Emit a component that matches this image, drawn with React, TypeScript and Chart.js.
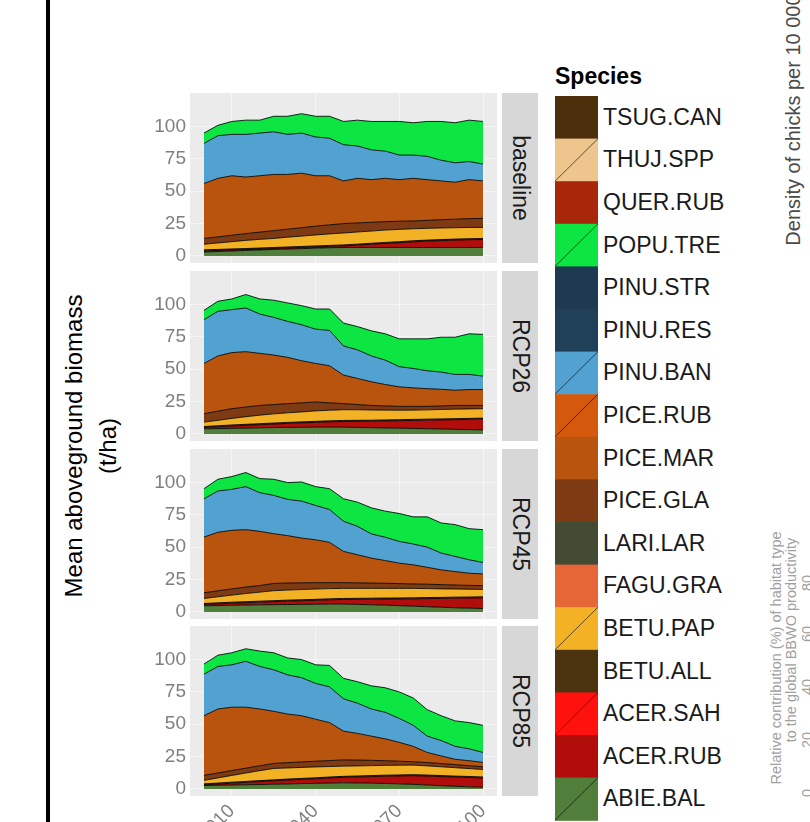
import React, { useEffect, useRef } from "react";
import { Chart, registerables } from "chart.js";

Chart.register(...registerables);

// ---------- data ----------
const YEARS = [2000, 2005, 2010, 2015, 2020, 2025, 2030, 2035, 2040, 2045, 2050, 2055, 2060, 2065, 2070, 2075, 2080, 2085, 2090, 2095, 2100];
const X_TICKS = [2010, 2040, 2070, 2100];
const Y_TICKS = [0, 25, 50, 75, 100];
const SCENARIOS = ["baseline", "RCP26", "RCP45", "RCP85"];

// legend order (top to bottom)
const SPECIES = ["TSUG.CAN", "THUJ.SPP", "QUER.RUB", "POPU.TRE", "PINU.STR", "PINU.RES", "PINU.BAN", "PICE.RUB", "PICE.MAR", "PICE.GLA", "LARI.LAR", "FAGU.GRA", "BETU.PAP", "BETU.ALL", "ACER.SAH", "ACER.RUB", "ABIE.BAL"];
const SPECIES_COLORS = ["#4E2F0B", "#EFC58E", "#A8260A", "#0CE542", "#1F3A50", "#204059", "#52A2D1", "#D4590C", "#B8540E", "#7E3A12", "#434A33", "#E66638", "#F3B126", "#4A330D", "#FF120E", "#B10D0A", "#4F7F3B"];
const DIAGONAL_KEYS = ["THUJ.SPP", "POPU.TRE", "PINU.BAN", "PICE.RUB", "BETU.PAP", "ACER.SAH", "ABIE.BAL"];

// stacking order (bottom to top) of the species with visible biomass
const STACK = ["ABIE.BAL", "ACER.RUB", "BETU.ALL", "BETU.PAP", "PICE.GLA", "PICE.MAR", "PINU.BAN", "POPU.TRE"];

const BETU_ALL = [0.8, 0.8, 0.8, 0.8, 0.8, 0.8, 0.8, 0.8, 0.8, 0.8, 0.8, 0.8, 0.8, 0.8, 0.8, 0.8, 0.8, 0.8, 0.8, 0.8, 0.8];

// baseline
const BASE_ABIE_BAL = [3, 3.4, 3.8, 4.2, 4.6, 5, 5.3, 5.6, 6, 6.3, 6.5, 6.5, 6.5, 6.5, 6.5, 6.5, 6.5, 6.5, 6.5, 6.5, 6.5];
const BASE_ACER_RUB = [0.9, 0.8, 0.8, 0.7, 0.7, 0.7, 0.8, 0.9, 0.9, 1.0, 1.2, 1.8, 2.5, 3.1, 3.7, 4.4, 4.9, 5.3, 5.7, 6.0, 6.2];
const BASE_BETU_PAP = [4.3, 5, 5.6, 6.3, 6.7, 7, 7.6, 8, 8.5, 8.9, 9.2, 9.4, 9.4, 9.6, 9.5, 9.3, 9.1, 9, 8.8, 8.7, 8.5];
const BASE_PICE_GLA = [4.5, 4.7, 5, 5.2, 5.6, 6, 6.2, 6.5, 6.8, 7, 7.3, 7, 6.8, 6.5, 6.3, 6, 6.2, 6.4, 6.6, 6.8, 7];
const BASE_PICE_MAR = [42.5, 45.3, 46, 43.8, 43.6, 43.5, 42.3, 42.2, 39, 38, 33, 34.5, 33, 33.5, 32.2, 33, 31.5, 30, 28.6, 30.2, 29];
const BASE_PINU_BAN = [31, 33, 32, 33, 33, 33, 31, 31, 30, 29, 28, 25, 23, 21, 19, 18, 18, 16, 15, 14, 13];
const BASE_POPU_TRE = [8, 8, 10, 11, 10, 12, 14, 15, 16, 17, 18, 20, 22, 23, 26, 25, 27, 30, 31, 32, 33];

// RCP26
const R26_ABIE_BAL = [3.9, 4.1, 4.3, 4.5, 4.7, 4.9, 5, 5.1, 5.2, 5.2, 5.2, 5, 4.8, 4.6, 4.4, 4.2, 4, 3.8, 3.5, 3.3, 3.1];
const R26_ACER_RUB = [1.0, 1.4, 1.8, 2.1, 2.4, 2.7, 3.1, 3.4, 3.7, 4.1, 4.4, 4.7, 5.0, 5.4, 5.8, 6.2, 6.6, 7.0, 7.5, 7.9, 8.3];
const R26_BETU_PAP = [3.4, 4.2, 5.1, 5.9, 6.6, 7.1, 7.4, 7.7, 8.1, 8.2, 8.3, 8.2, 7.9, 7.6, 7.3, 7.2, 7.2, 7.3, 7.3, 7.3, 7.3];
const R26_PICE_GLA = [6.5, 7.1, 7.5, 7.5, 7.5, 7.2, 7.1, 7, 6.9, 5.7, 4.7, 4, 3.5, 3.2, 3, 2.9, 2.7, 2.7, 2.9, 2.7, 2.5];
const R26_PICE_MAR = [38.9, 42.7, 43.4, 42.8, 40.3, 38.3, 35.8, 32.6, 29.8, 28.7, 22.1, 20.2, 18.3, 16.6, 15.1, 14.3, 13.7, 12.9, 11.8, 12.3, 12.3];
const R26_PINU_BAN = [33.8, 34.5, 33.2, 33.8, 30.4, 29.1, 27.8, 27.8, 26.5, 27.3, 22.5, 22.1, 20, 18.8, 15.6, 15, 13.8, 13.3, 12.2, 11.7, 10.4];
const R26_POPU_TRE = [7.3, 7.8, 8.3, 10.4, 11.7, 13.3, 14.3, 14.8, 15.6, 16.6, 17.7, 18, 19.4, 20.4, 21.5, 22.9, 24.7, 27, 28.8, 31.4, 32.3];

// RCP45
const R45_ABIE_BAL = [4.7, 4.9, 5.1, 5.3, 5.5, 5.6, 5.7, 5.8, 5.9, 6, 6, 5.8, 5.5, 5.2, 4.8, 4.4, 4, 3.6, 3.2, 2.9, 2.6];
const R45_ACER_RUB = [1.0, 1.3, 1.6, 1.8, 2.0, 2.3, 2.6, 2.8, 3.0, 3.3, 3.6, 3.9, 4.3, 4.7, 5.2, 5.7, 6.3, 6.8, 7.4, 7.8, 8.3];
const R45_BETU_PAP = [3.9, 4.7, 5.5, 6.3, 7, 7.7, 7.8, 7.9, 8, 7.9, 7.8, 7.7, 7.6, 7.5, 7.4, 7.3, 6.9, 6.6, 6.3, 6, 5.7];
const R45_PICE_GLA = [4.4, 4.6, 4.8, 5, 5.1, 5.6, 5.4, 5.2, 4.9, 4.6, 4.4, 4.3, 4.1, 3.9, 3.7, 3.4, 3.4, 3.3, 3.1, 3, 2.9];
const R45_PICE_MAR = [43.1, 45.3, 45.3, 44.4, 41.9, 38.5, 36.7, 34.6, 33.2, 31.2, 24.2, 21.7, 19.3, 17.6, 15.8, 14.8, 13.1, 11.4, 10.4, 9.4, 9.1];
const R45_PINU_BAN = [29.6, 31.9, 31.7, 33.3, 29.9, 29.6, 28, 28.6, 26.5, 25.4, 23.3, 22, 18.7, 18, 16.8, 16.1, 15.6, 13, 11.7, 10.4, 8.8];
const R45_POPU_TRE = [7.8, 9.1, 9.9, 10.9, 10.9, 12.5, 13, 14.8, 14.6, 16.1, 17.4, 18.7, 20.2, 20.2, 21.6, 21, 23.4, 23.3, 24.6, 24.1, 25.4];

// RCP85
const R85_ABIE_BAL = [2.6, 2.8, 3, 3.2, 3.4, 3.6, 3.8, 4.1, 4.3, 4.5, 4.7, 4.6, 4.4, 4.2, 3.9, 3.5, 3, 2.5, 2, 1.6, 1.3];
const R85_ACER_RUB = [0.5, 0.9, 1.4, 1.8, 2.2, 2.6, 3, 3.2, 3.5, 3.9, 4.2, 4.6, 5.1, 5.6, 6.1, 6.7, 6.9, 7, 7.1, 7.2, 7.1];
const R85_BETU_PAP = [2.7, 4, 5.2, 6.5, 7.7, 8.8, 8.6, 8.5, 8.4, 8.1, 7.9, 7.8, 7.7, 7.6, 7.5, 7.4, 7.1, 6.8, 6.5, 6.1, 5.8];
const R85_PICE_GLA = [3.9, 3.8, 3.8, 3.7, 3.8, 3.9, 4.1, 4.3, 4.4, 4.6, 4.8, 4.5, 4.1, 3.6, 3.1, 2.6, 2.6, 2.5, 2.4, 2.2, 2.1];
const R85_PICE_MAR = [46.1, 49.5, 49, 47.2, 43.9, 40.3, 37.6, 35.7, 32.5, 29.4, 22.3, 20.6, 18.7, 16.9, 14.6, 11.9, 7.8, 5.9, 4.1, 3.9, 3.4];
const R85_PINU_BAN = [32.1, 32.9, 32.8, 35.5, 32.9, 32.1, 30.3, 29.4, 27.7, 27.6, 25, 23.4, 21, 20.5, 18.5, 16.3, 12.6, 11.9, 10, 9.2, 7.7];
const R85_POPU_TRE = [7.9, 8.7, 9.3, 9.7, 11.9, 13.2, 13.1, 14, 14.4, 16.6, 15.8, 16.6, 17.9, 19, 20.5, 21.1, 20.5, 19.2, 19.7, 20.3, 21];

const SCENARIO_SERIES = [
  [BASE_ABIE_BAL, BASE_ACER_RUB, BETU_ALL, BASE_BETU_PAP, BASE_PICE_GLA, BASE_PICE_MAR, BASE_PINU_BAN, BASE_POPU_TRE],
  [R26_ABIE_BAL, R26_ACER_RUB, BETU_ALL, R26_BETU_PAP, R26_PICE_GLA, R26_PICE_MAR, R26_PINU_BAN, R26_POPU_TRE],
  [R45_ABIE_BAL, R45_ACER_RUB, BETU_ALL, R45_BETU_PAP, R45_PICE_GLA, R45_PICE_MAR, R45_PINU_BAN, R45_POPU_TRE],
  [R85_ABIE_BAL, R85_ACER_RUB, BETU_ALL, R85_BETU_PAP, R85_PICE_GLA, R85_PICE_MAR, R85_PINU_BAN, R85_POPU_TRE],
];

// ---------- layout ----------
const FONT = "'Liberation Sans', Arial, Helvetica, sans-serif";
const PANEL_TOPS = [93, 271, 449, 626];
const PANEL_H = 170;
const CANVAS_LEFT = 130;
const CANVAS_W = 370;
const X_AXIS_H = 60;

const colorOf = (sp: string) => SPECIES_COLORS[SPECIES.indexOf(sp)];

const panelBg = {
  id: "panelBg",
  beforeDraw(chart: any) {
    const { ctx, chartArea } = chart;
    ctx.save();
    ctx.fillStyle = "#EBEBEB";
    ctx.fillRect(chartArea.left, chartArea.top, chartArea.right - chartArea.left, chartArea.bottom - chartArea.top);
    ctx.restore();
  },
};

function Panel({ index }: { index: number }) {
  const ref = useRef<HTMLCanvasElement>(null);
  const showX = index === SCENARIOS.length - 1;
  const height = PANEL_H + (showX ? X_AXIS_H : 0);

  useEffect(() => {
    const series = SCENARIO_SERIES[index];
    const datasets = STACK.map((sp, i) => ({
      label: sp,
      data: YEARS.map((x, j) => ({ x, y: series[i][j] })),
      backgroundColor: colorOf(sp),
      borderColor: "rgba(0,0,0,0.85)",
      borderWidth: 1,
      pointRadius: 0,
      tension: 0,
      fill: i === 0 ? "origin" : "-1",
    }));
    const chart = new Chart(ref.current as HTMLCanvasElement, {
      type: "line",
      data: { datasets } as any,
      options: {
        animation: false,
        responsive: false,
        maintainAspectRatio: false,
        layout: { padding: { left: 0, right: 3, top: 0, bottom: 0 } },
        plugins: { legend: { display: false }, tooltip: { enabled: false } },
        scales: {
          x: {
            type: "linear",
            min: 1995,
            max: 2105,
            border: { display: false },
            grid: { color: "rgba(255,255,255,0.5)", lineWidth: 1, drawTicks: false },
            afterBuildTicks: (s: any) => {
              s.ticks = X_TICKS.map((v) => ({ value: v }));
            },
            afterFit: (s: any) => {
              s.height = showX ? X_AXIS_H : 0;
              s.paddingLeft = 0;
              s.paddingRight = 0;
            },
            ticks: {
              display: showX,
              autoSkip: false,
              minRotation: 45,
              maxRotation: 45,
              padding: 4,
              color: "#7F7F7F",
              font: { family: FONT, size: 19 },
              callback: (v: any) => String(v),
            },
          },
          y: {
            stacked: true,
            min: -5.5,
            max: 126,
            border: { display: false },
            grid: { color: "rgba(255,255,255,0.5)", lineWidth: 1, drawTicks: false },
            afterBuildTicks: (s: any) => {
              s.ticks = Y_TICKS.map((v) => ({ value: v }));
            },
            afterFit: (s: any) => {
              s.width = 60;
              s.paddingTop = 0;
              s.paddingBottom = 0;
            },
            ticks: {
              padding: 4,
              color: "#7F7F7F",
              font: { family: FONT, size: 19 },
              callback: (v: any) => String(v),
            },
          },
        },
      } as any,
      plugins: [panelBg],
    });
    return () => chart.destroy();
  }, [index]);

  return (
    <canvas
      ref={ref}
      width={CANVAS_W}
      height={height}
      style={{ position: "absolute", left: CANVAS_LEFT, top: PANEL_TOPS[index], width: CANVAS_W, height }}
    />
  );
}

function Rotated({ cx, cy, text, size, color, weight, deg }: any) {
  return (
    <div
      style={{
        position: "absolute",
        left: cx,
        top: cy,
        transform: `translate(-50%, -50%) rotate(${deg}deg)`,
        whiteSpace: "nowrap",
        fontFamily: FONT,
        fontSize: size,
        color,
        fontWeight: weight || "normal",
        lineHeight: 1,
      }}
    >
      {text}
    </div>
  );
}

const KEY_TOP = 96;
const KEY_H = 42.6;
const KEY_LEFT = 555;
const KEY_W = 43;

export default function App() {
  return (
    <div
      style={{
        position: "fixed",
        left: 0,
        top: 0,
        width: 810,
        height: 822,
        overflow: "hidden",
        background: "#FFFFFF",
        fontFamily: FONT,
      }}
    >
      {/* black frame line */}
      <div style={{ position: "absolute", left: 46, top: 0, width: 4, height: 822, background: "#000" }} />

      {/* axis title */}
      <Rotated cx={74} cy={446} text="Mean aboveground biomass" size={24} color="#000" deg={-90} />
      <Rotated cx={108} cy={446} text="(t/ha)" size={24} color="#000" deg={-90} />

      {SCENARIOS.map((s, i) => (
        <Panel key={s} index={i} />
      ))}

      {/* facet strips */}
      {SCENARIOS.map((s, i) => (
        <div
          key={"strip" + s}
          style={{ position: "absolute", left: 502, top: PANEL_TOPS[i], width: 36, height: PANEL_H, background: "#D7D7D7" }}
        >
          <Rotated cx={18} cy={PANEL_H / 2} text={s} size={23} color="#1A1A1A" deg={90} />
        </div>
      ))}

      {/* legend */}
      <div style={{ position: "absolute", left: 555, top: 65, fontFamily: FONT, fontSize: 23, fontWeight: "bold", color: "#000", lineHeight: 1 }}>
        Species
      </div>
      <svg
        style={{ position: "absolute", left: KEY_LEFT, top: KEY_TOP }}
        width={KEY_W}
        height={Math.ceil(KEY_H * SPECIES.length)}
      >
        {SPECIES.map((sp, i) => (
          <g key={sp}>
            <rect x={0} y={i * KEY_H} width={KEY_W} height={KEY_H + 0.6} fill={SPECIES_COLORS[i]} />
            {DIAGONAL_KEYS.includes(sp) && (
              <line x1={0} y1={(i + 1) * KEY_H} x2={KEY_W} y2={i * KEY_H} stroke="rgba(0,0,0,0.6)" strokeWidth={1} />
            )}
          </g>
        ))}
      </svg>
      {SPECIES.map((sp, i) => (
        <div
          key={"lab" + sp}
          style={{
            position: "absolute",
            left: 603,
            top: KEY_TOP + KEY_H * (i + 0.5) - 11.5,
            fontFamily: FONT,
            fontSize: 23,
            lineHeight: "23px",
            color: "#1A1A1A",
            whiteSpace: "nowrap",
          }}
        >
          {sp}
        </div>
      ))}

      {/* neighbouring figure fragments at the right edge */}
      <Rotated cx={793} cy={120} text="Density of chicks per 10 000" size={20} color="#4A4A4A" deg={-90} />
      <Rotated cx={776} cy={658} text="Relative contribution (%) of habitat type" size={14.5} color="#A0A0A0" deg={-90} />
      <Rotated cx={791} cy={640} text="to the global BBWO productivity" size={14.5} color="#A0A0A0" deg={-90} />
      <Rotated cx={807} cy={793} text="0" size={14.5} color="#A0A0A0" deg={-90} />
      <Rotated cx={807} cy={740} text="20" size={14.5} color="#A0A0A0" deg={-90} />
      <Rotated cx={807} cy={687} text="40" size={14.5} color="#A0A0A0" deg={-90} />
      <Rotated cx={807} cy={634} text="60" size={14.5} color="#A0A0A0" deg={-90} />
      <Rotated cx={807} cy={583} text="80" size={14.5} color="#A0A0A0" deg={-90} />
    </div>
  );
}
